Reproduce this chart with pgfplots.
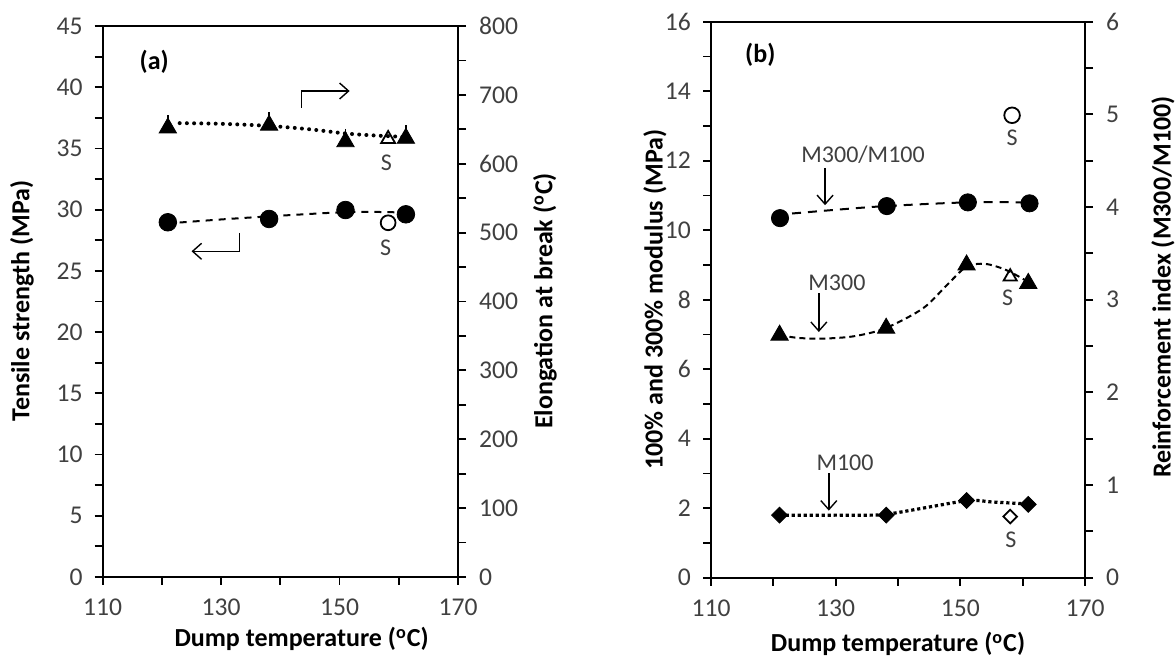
\documentclass[border=0pt]{standalone}
\usepackage{fontspec}
\setmainfont{Carlito}
\usepackage{pgfplots}
\pgfplotsset{compat=1.18}
\usetikzlibrary{arrows.meta}
\definecolor{tk}{HTML}{404040}
\newcommand{\tfont}{\fontsize{12.8}{14}\selectfont}
\newcommand{\lfont}{\bfseries\fontsize{13}{15}\selectfont}
\pgfplotsset{
  base/.style={
    scale only axis, anchor=south west,
    xmin=110, xmax=170,
    xtick={110,130,150,170}, minor xtick={120,140,160},
    tick align=outside, major tick length=4pt, minor tick length=4pt,
    every tick/.append style={black, line width=0.9pt},
    every minor tick/.append style={black, line width=0.9pt},
    axis line style={line width=1.1pt},
    tick label style={font=\tfont, text=tk},
    xticklabel style={yshift=-3.5pt},
    /pgf/number format/assume math mode=true,
    clip=false,
  },
  lefty/.style={yticklabel style={xshift=-2.5pt}},
  righty/.style={yticklabel style={xshift=3pt}},
}
\tikzset{
  arr/.style={line width=0.7pt, -{Straight Barb[length=4.5pt,width=8pt]}},
  ann/.style={font=\fontsize{12}{14}\selectfont, text=tk},
}
\begin{document}
\begin{tikzpicture}
\useasboundingbox (0,0) rectangle (588pt,328.5pt);
% ---------------- panel (a) left axis
\begin{axis}[base, lefty, at={(51.35pt,40pt)}, width=177.65pt, height=275.5pt,
  ymin=0, ymax=45, ytick={0,5,...,45}, minor ytick={2.5,7.5,...,42.5},
  xtick pos=left, ytick pos=left]
\addplot[black, line width=1pt, dash pattern=on 3.5pt off 3pt, smooth] coordinates {(123,28.95)(130,29.2)(138,29.45)(151,29.8)(158,29.8)(161,29.75)};
\addplot[only marks, mark=*, mark size=4.4pt, black] coordinates {(121,28.97)(138.1,29.24)(151,29.97)(161.2,29.62)};
\addplot[only marks, mark=o, mark size=3.7pt, black, mark options={line width=0.9pt, fill=white}] coordinates {(158.2,28.93)};
\node[font=\lfont] at (axis cs:118.7,42.06) {(a)};
\draw[arr] (axis cs:143.6,38.33) -- (axis cs:143.6,39.69) -- (axis cs:151.7,39.69);
\draw[arr] (axis cs:133.1,28.1) -- (axis cs:133.1,26.6) -- (axis cs:125.0,26.6);
\node[ann] at (axis cs:157.9,33.79) {S};
\node[ann] at (axis cs:157.8,26.9) {S};
\end{axis}
% ---------------- panel (a) right axis
\begin{axis}[base, righty, at={(51.35pt,40pt)}, width=177.65pt, height=275.5pt,
  ymin=0, ymax=800, ytick={0,100,...,800}, minor ytick={50,150,...,750},
  axis y line*=right, axis x line=none]
\addplot[black, line width=2pt, line cap=round, dash pattern=on 0pt off 3.6pt, smooth] coordinates {(123,659)(130,658)(138,655)(145,650)(151,644)(156,641)(161,639)};
\addplot[only marks, mark=triangle*, mark size=5pt, black,
  error bars/.cd, y dir=plus, y explicit, error bar style={line width=0.8pt},
  error mark options={mark size=3.3pt, line width=0.8pt}] table[x=x, y=y, y error=e] {
x y e
121 652 9
138.1 656 9
151 632 9
161.2 637 9
};
\addplot[only marks, mark=triangle, mark size=4pt, black, mark options={fill=white, line width=0.9pt}] coordinates {(158.2,636)};
\end{axis}
% ---------------- panel (b) left axis
\begin{axis}[base, lefty, at={(355.5pt,39.65pt)}, width=187pt, height=278pt,
  ymin=0, ymax=16, ytick={0,2,...,16}, minor ytick={1,3,...,15},
  xtick pos=left, ytick pos=left]
\addplot[black, line width=1pt, dash pattern=on 3pt off 2pt, smooth] coordinates {(121,6.98)(124,6.9)(128,6.88)(133,6.95)(138,7.18)(144,7.75)(148,8.45)(151,8.95)(154,9.03)(157.4,8.85)(161,8.5)};
\addplot[black, line width=1.6pt, dash pattern=on 1.6pt off 1.4pt, smooth, tension=0.3] coordinates {(121,1.8)(130,1.8)(138,1.82)(151,2.22)(155,2.18)(161,2.12)};
\addplot[only marks, mark=triangle*, mark size=5pt, black] coordinates {(121,6.98)(138.1,7.18)(151,9.0)(160.9,8.47)};
\addplot[only marks, mark=triangle, mark size=3.8pt, black, mark options={fill=white, line width=0.9pt}] coordinates {(158,8.66)};
\addplot[only marks, mark=square*, mark size=2.8pt, black, mark options={rotate=45}] coordinates {(121,1.8)(138.1,1.8)(151,2.22)(160.9,2.11)};
\addplot[only marks, mark=square, mark size=2.4pt, black, mark options={rotate=45, fill=white, line width=0.9pt}] coordinates {(158,1.76)};
\node[font=\lfont] at (axis cs:117.9,15.04) {(b)};
\node[ann] at (axis cs:134.4,12.17) {M300/M100};
\draw[arr] (axis cs:128.3,11.79) -- (axis cs:128.3,10.72);
\node[ann] at (axis cs:130.2,8.48) {M300};
\draw[arr] (axis cs:127.3,8.19) -- (axis cs:127.3,7.07);
\node[ann] at (axis cs:131.5,3.31) {M100};
\draw[arr] (axis cs:128.9,3.01) -- (axis cs:128.9,1.93);
\node[ann] at (axis cs:158.3,12.65) {S};
\node[ann] at (axis cs:157.6,8.05) {S};
\node[ann] at (axis cs:158.1,1.08) {S};
\end{axis}
% ---------------- panel (b) right axis
\begin{axis}[base, righty, at={(355.5pt,39.65pt)}, width=187pt, height=278pt,
  ymin=0, ymax=6, ytick={0,1,...,6}, minor ytick={0.5,1.5,...,5.5},
  axis y line*=right, axis x line=none]
\addplot[black, line width=1pt, dash pattern=on 4.5pt off 3.5pt, smooth] coordinates {(123,3.93)(130,3.97)(138,4.01)(151,4.05)(161,4.05)};
\addplot[only marks, mark=*, mark size=4.3pt, black] coordinates {(121.07,3.88)(138.2,4.01)(151.2,4.05)(161.1,4.04)};
\addplot[only marks, mark=o, mark size=3.9pt, black, mark options={line width=0.9pt, fill=white}] coordinates {(158.3,4.99)};
\end{axis}
% ---------------- axis titles
\node[font=\lfont, rotate=90] at (11pt,178pt) {Tensile strength (MPa)};
\node[font=\lfont, rotate=90] at (272.5pt,178pt) {Elongation at break (\textsuperscript{o}C)};
\node[font=\lfont, anchor=base] at (150.8pt,5pt) {Dump temperature (\textsuperscript{o}C)};
\node[font=\lfont, rotate=90] at (327.5pt,178.6pt) {100\% and 300\% modulus (MPa)};
\node[font=\lfont, rotate=90] at (581.5pt,185pt) {Reinforcement index (M300/M100)};
\node[font=\lfont, anchor=base] at (449pt,2.5pt) {Dump temperature (\textsuperscript{o}C)};
\end{tikzpicture}
\end{document}
